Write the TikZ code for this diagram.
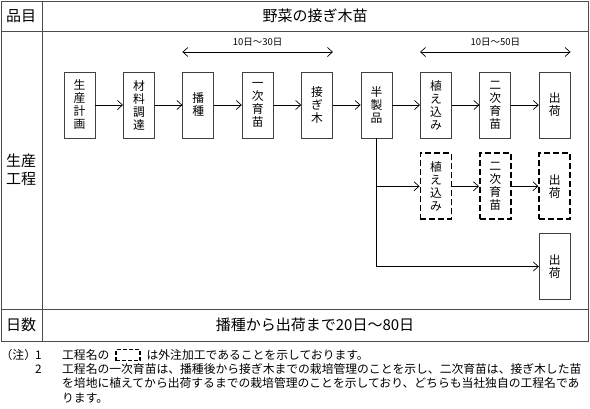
\documentclass[tikz,border=0pt]{standalone}
\usepackage{fontspec}
\setmainfont{Noto Sans CJK JP}
\usetikzlibrary{arrows.meta,positioning}
\begin{document}
\begin{tikzpicture}[x=1pt,y=-1pt,>={Straight Barb[length=5pt,width=9pt]},
	proc/.style={draw=black!75,line width=.8pt,minimum width=31pt,minimum height=66pt,inner sep=0pt,align=center,font=\fontsize{11.8}{13}\selectfont},
	gaichu/.style={proc,draw=black,dash pattern=on 6pt off 3pt,line width=1.7pt},
	cell/.style={inner sep=0pt,align=center,font=\fontsize{15}{18}\selectfont},
	span/.style={inner sep=0pt,font=\fontsize{9.5}{11}\selectfont},
	note/.style={anchor=west,inner sep=0pt,font=\fontsize{11.8}{14}\selectfont},
	node distance=27.6pt]
	\useasboundingbox (0,0) rectangle (590,408);
	\draw[black!70,line width=.9pt] (1,1) rectangle (588,341)
	(1,31) -- (588,31) (1,309) -- (588,309) (42,1) -- (42,341);
	\node[cell] (hinmoku) at (21,16) {品目};
	\node[cell] (hinmei) at (315,16) {野菜の接ぎ木苗};
	\node[cell] (koutei) at (21,170) {生産\\工程};
	\node[cell] (nissu) at (21,325) {日数};
	\node[cell] (kikan) at (315,325) {播種から出荷まで20日～80日};
	\node[proc] (keikaku) at (79.5,105) {生\\産\\計\\画};
	\node[proc,right=of keikaku] (chotatsu) {材\\料\\調\\達};
	\node[proc,right=of chotatsu] (hashu) {播\\種};
	\node[proc,right=of hashu] (ikubyoA) {一\\次\\育\\苗};
	\node[proc,right=of ikubyoA] (tsugiki) {接\\ぎ\\木};
	\node[proc,right=of tsugiki] (hanseihin) {半\\製\\品};
	\node[proc,right=of hanseihin] (uekomi) {植\\え\\込\\み};
	\node[proc,right=of uekomi] (ikubyoB) {二\\次\\育\\苗};
	\node[proc,right=of ikubyoB] (shukka) {出\\荷};
	\node[gaichu,below=14pt of uekomi] (uekomiG) {植\\え\\込\\み};
	\node[gaichu,below=14pt of ikubyoB] (ikubyoG) {二\\次\\育\\苗};
	\node[gaichu,below=14pt of shukka] (shukkaG) {出\\荷};
	\node[proc,below=13pt of shukkaG] (shukkaH) {出\\荷};
	\foreach \a/\b in {keikaku/chotatsu,chotatsu/hashu,hashu/ikubyoA,ikubyoA/tsugiki,tsugiki/hanseihin,
		hanseihin/uekomi,uekomi/ikubyoB,ikubyoB/shukka,uekomiG/ikubyoG,ikubyoG/shukkaG}
	\draw[->,line width=.7pt] (\a) -- (\b);
	\draw[->,line width=.7pt] (hanseihin.south) |- (shukkaH.west);
	\draw[->,line width=.7pt] (hanseihin.south |- uekomiG.west) -- (uekomiG.west);
	\coordinate (spanAs) at (hashu.west |- 0,52);
	\coordinate (spanAe) at (tsugiki.east |- 0,52);
	\coordinate (spanBs) at (uekomi.west |- 0,52);
	\coordinate (spanBe) at (shukka.east |- 0,52);
	\draw[<->,line width=.7pt] (spanAs) -- node[span,above=5pt] (spanA) {10日～30日} (spanAe);
	\draw[<->,line width=.7pt] (spanBs) -- node[span,above=5pt] (spanB) {10日～50日} (spanBe);
	\node[note] (chu) at (0.5,355) {（注）};
	\node[note] (noteA) at (35,355) {1};
	\node[note] (noteAa) at (62,355) {工程名の};
	\node[draw=black,dash pattern=on 4pt off 2pt,line width=1.8pt,minimum width=24pt,minimum height=11pt,inner sep=0pt,right=5.5pt of noteAa] (rei) {};
	\node[note,right=5.5pt of rei] (noteAb) {は外注加工であることを示しております。};
	\node[note] (noteB) at (35,369) {2};
	\node[note] (noteBa) at (62,369) {工程名の一次育苗は、播種後から接ぎ木までの栽培管理のことを示し、二次育苗は、接ぎ木した苗};
	\node[note] (noteBb) at (62,383) {を培地に植えてから出荷するまでの栽培管理のことを示しており、どちらも当社独自の工程名であ};
	\node[note] (noteBc) at (62,398) {ります。};
\end{tikzpicture}
\end{document}
